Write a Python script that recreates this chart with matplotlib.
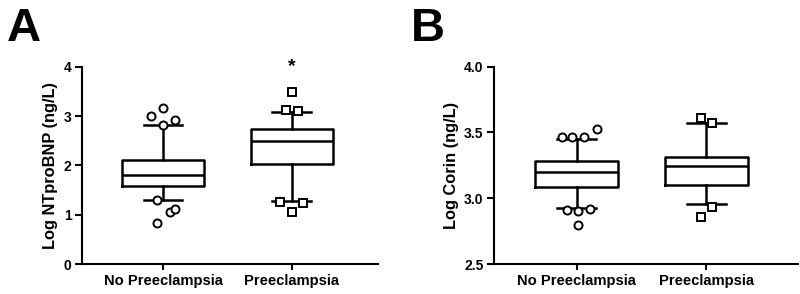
import matplotlib
matplotlib.use("Agg")
import matplotlib.pyplot as plt

plt.rcParams['font.family'] = ['Liberation Sans', 'DejaVu Sans']
plt.rcParams['font.weight'] = 'bold'

categories = ["No Preeclampsia", "Preeclampsia"]

# Panel A: Log NTproBNP
a_q1 = [1.59, 2.02]
a_med = [1.81, 2.50]
a_q3 = [2.10, 2.74]
a_whislo = [1.29, 1.28]
a_whishi = [2.81, 3.09]
a_out_no = [3.01, 3.16, 2.93, 2.82, 1.29, 1.05, 1.12, 0.84]
a_out_no_dx = [-0.09, 0.0, 0.095, 0.0, -0.045, 0.05, 0.093, -0.045]
a_out_pe = [3.49, 3.12, 3.10, 1.26, 1.23, 1.06]
a_out_pe_dx = [0.0, -0.047, 0.052, -0.09, 0.09, 0.0]

# Panel B: Log Corin
b_q1 = [3.083, 3.10]
b_med = [3.20, 3.245]
b_q3 = [3.286, 3.316]
b_whislo = [2.924, 2.956]
b_whishi = [3.448, 3.57]
b_out_no = [3.466, 3.466, 3.466, 3.524, 2.912, 2.905, 2.915, 2.797]
b_out_no_dx = [-0.116, -0.035, 0.052, 0.155, -0.072, 0.013, 0.105, 0.013]
b_out_pe = [3.608, 3.57, 2.931, 2.855]
b_out_pe_dx = [-0.041, 0.049, 0.049, -0.041]

fig = plt.figure(figsize=(8, 2.94), dpi=100)

LW = 1.8
TICK_FS = 10
XLAB_FS = 10.6
YLAB_FS = 11.8

def draw(ax, q1, med, q3, lo, hi, out_no, dx_no, out_pe, dx_pe):
    stats = []
    for i in range(2):
        stats.append(dict(q1=q1[i], med=med[i], q3=q3[i], whislo=lo[i], whishi=hi[i], fliers=[]))
    ax.bxp(stats, positions=[0, 1], widths=0.64, showfliers=False,
           boxprops=dict(linewidth=LW, color='black'),
           medianprops=dict(linewidth=LW, color='black'),
           whiskerprops=dict(linewidth=LW, color='black'),
           capprops=dict(linewidth=LW, color='black'), capwidths=0.3)
    ax.plot([0 + d for d in dx_no], out_no, linestyle='none', marker='o', ms=5.8,
            mfc='white', mec='black', mew=1.4, zorder=5)
    ax.plot([1 + d for d in dx_pe], out_pe, linestyle='none', marker='s', ms=5.4,
            mfc='white', mec='black', mew=1.4, zorder=5)
    for s in ['top', 'right']:
        ax.spines[s].set_visible(False)
    for s in ['left', 'bottom']:
        ax.spines[s].set_linewidth(1.5)
    ax.set_xticks([0, 1])
    ax.set_xticklabels(categories, fontsize=XLAB_FS, fontweight='bold')
    ax.tick_params(axis='y', width=1.5, length=5, labelsize=TICK_FS, pad=2.5)
    ax.tick_params(axis='x', width=1.5, length=4, pad=3)
    for lab in ax.get_yticklabels():
        lab.set_fontweight('bold')

axA = fig.add_axes([0.1025, 0.102, 0.37, 0.671])
draw(axA, a_q1, a_med, a_q3, a_whislo, a_whishi, a_out_no, a_out_no_dx, a_out_pe, a_out_pe_dx)
axA.set_xlim(-0.63, 1.67)
axA.set_ylim(0, 4)
axA.set_yticks([0, 1, 2, 3, 4])
axA.set_ylabel("Log NTproBNP (ng/L)", fontsize=YLAB_FS, fontweight='bold', labelpad=4)
axA.text(1, 4.0, "*", ha='center', va='center', fontsize=14, fontweight='bold', clip_on=False)

axB = fig.add_axes([0.6175, 0.102, 0.38, 0.671])
draw(axB, b_q1, b_med, b_q3, b_whislo, b_whishi, b_out_no, b_out_no_dx, b_out_pe, b_out_pe_dx)
axB.set_xlim(-0.64, 1.71)
axB.set_ylim(2.5, 4.0)
axB.set_yticks([2.5, 3.0, 3.5, 4.0])
axB.set_yticklabels(["2.5", "3.0", "3.5", "4.0"])
axB.set_ylabel("Log Corin (ng/L)", fontsize=YLAB_FS, fontweight='bold', labelpad=4)

fig.text(0.009, 0.975, "A", fontsize=34, fontweight='bold', va='top', ha='left')
fig.text(0.514, 0.975, "B", fontsize=34, fontweight='bold', va='top', ha='left')

fig.savefig("out.png", dpi=100)
